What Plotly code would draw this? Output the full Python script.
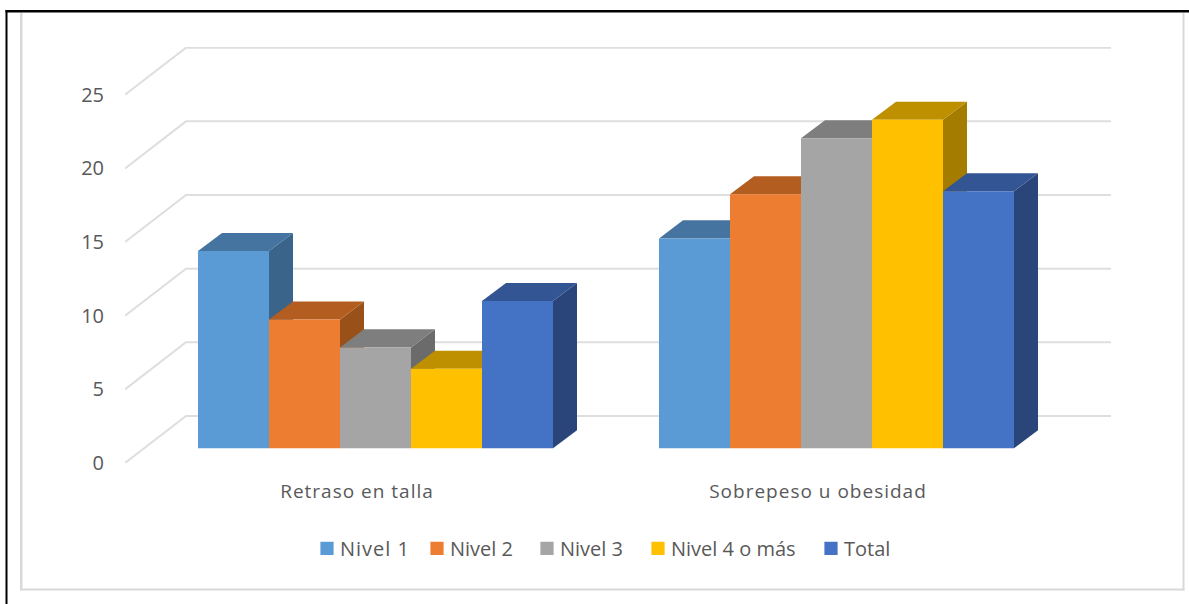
import plotly.graph_objects as go

categories = ["Retraso en talla", "Sobrepeso u obesidad"]
series_names = ["Nivel 1", "Nivel 2", "Nivel 3", "Nivel 4 o más", "Total"]
nivel_1 = [13.4, 14.25]
nivel_2 = [8.75, 17.25]
nivel_3 = [6.85, 21.05]
nivel_4 = [5.4, 22.3]
total = [10.0, 17.45]
series_values = [nivel_1, nivel_2, nivel_3, nivel_4, total]
front_colors = ["#5B9BD5", "#ED7D31", "#A5A5A5", "#FFC000", "#4472C4"]
top_colors = ["#4674A0", "#B35D20", "#7E7E7E", "#BE9000", "#335593"]
side_colors = ["#3A6489", "#9A5119", "#6B6B6B", "#A47C00", "#2A4579"]
y_ticks = [0, 5, 10, 15, 20, 25]
legend_px = [300, 410, 520, 631, 804]

W, H = 1189, 604
L, R, T, B = 125, 1111, 47, 462.7
PX_X = 461.0          # pixels per category step
PX_Y = 14.72          # pixels per value unit
X0_PX = 375.5         # pixel of first category
FONT = "Open Sans"
TEXT = "#595959"
GRID = "#DEDEDE"

x_range = [(L - X0_PX) / PX_X, (R - X0_PX) / PX_X]
y_range = [0, (B - T) / PX_Y]
BARGAP = 1 - 355.0 / PX_X
BASE = (B - 448) / PX_Y        # bars stand in mid-depth of the floor
WALL_DX = 61 / PX_X
WALL_DY = (B - 415.7) / PX_Y
BAR_DX = 24 / PX_X
BAR_DY = 18 / PX_Y
LABEL_SHIFT = -18.5 / PX_X     # labels sit on the front edge of the floor

fig = go.Figure()

# back wall and side wall gridlines
gx, gy = [], []
for t in y_ticks:
    gx += [x_range[0], x_range[0] + WALL_DX, x_range[1], None]
    gy += [t, t + WALL_DY, t + WALL_DY, None]
fig.add_trace(go.Scatter(x=gx, y=gy, mode="lines", line=dict(color=GRID, width=2),
                         hoverinfo="skip", showlegend=False))

# depth faces, painted left to right
group_w = 1 - BARGAP
bar_w = group_w / len(series_values)
for c in range(len(categories)):
    for s, vals in enumerate(series_values):
        left = c - group_w / 2 + s * bar_w
        right = left + bar_w
        top = BASE + vals[c]
        fig.add_trace(go.Scatter(
            x=[right, right, right + BAR_DX, right + BAR_DX, right],
            y=[BASE, top, top + BAR_DY, BASE + BAR_DY, BASE],
            mode="lines", line=dict(width=0, color=side_colors[s]), fill="toself",
            fillcolor=side_colors[s], hoverinfo="skip", showlegend=False))
        fig.add_trace(go.Scatter(
            x=[left, right, right + BAR_DX, left + BAR_DX, left],
            y=[top, top, top + BAR_DY, top + BAR_DY, top],
            mode="lines", line=dict(width=0, color=top_colors[s]), fill="toself",
            fillcolor=top_colors[s], hoverinfo="skip", showlegend=False))

# front faces on an overlaid subplot, so they cover the depth faces
for s, vals in enumerate(series_values):
    lg = "legend" if s == 0 else f"legend{s + 1}"
    fig.add_trace(go.Bar(x=list(range(len(categories))), y=vals, base=BASE,
                         name=series_names[s], marker=dict(color=front_colors[s], line=dict(width=0)),
                         xaxis="x2", yaxis="y2", legend=lg, showlegend=True))

def px_x(p):
    return (p - L) / (R - L)

def px_y(p):
    return (B - p) / (B - T)

def box(x0, y0, x1, y1, color):
    return dict(type="rect", xref="paper", yref="paper", layer="below",
                x0=px_x(x0), x1=px_x(x1), y0=px_y(y0), y1=px_y(y1),
                fillcolor=color, line=dict(width=0))

shapes = [
    box(20, 13, 22.5, 590, "#D9D9D9"),
    box(1182.5, 13, 1184.5, 590, "#D9D9D9"),
    box(20, 588, 1184.5, 590, "#D9D9D9"),
    box(5.5, 10, 1189, 12.5, "#000000"),
    box(5.5, 10, 7.5, 604, "#000000"),
]

layout = dict(
    width=W, height=H,
    margin=dict(l=L, r=W - R, t=T, b=H - B, pad=0, autoexpand=False),
    paper_bgcolor="white", plot_bgcolor="rgba(0,0,0,0)",
    barmode="group", bargap=BARGAP, bargroupgap=0,
    font=dict(family=FONT, size=19, color=TEXT),
    shapes=shapes,
    xaxis=dict(range=x_range, tickvals=[i + LABEL_SHIFT for i in range(len(categories))],
               ticktext=categories,
               showgrid=False, zeroline=False, showline=False, ticks="",
               ticklabelstandoff=15, tickfont=dict(family=FONT, size=19, color=TEXT)),
    yaxis=dict(range=y_range, tickvals=y_ticks, showgrid=False, zeroline=False, showline=False,
               ticks="", ticklabelstandoff=20, tickfont=dict(family=FONT, size=20, color=TEXT)),
    xaxis2=dict(range=x_range, overlaying="x", anchor="y2", visible=False),
    yaxis2=dict(range=y_range, overlaying="y", anchor="x2", visible=False),
)
for s, p in enumerate(legend_px):
    key = "legend" if s == 0 else f"legend{s + 1}"
    layout[key] = dict(orientation="h", x=px_x(p), y=px_y(548), xanchor="left", yanchor="middle",
                       bgcolor="rgba(0,0,0,0)", borderwidth=0, itemclick=False, itemdoubleclick=False,
                       font=dict(family=FONT, size=20, color=TEXT))
fig.update_layout(**layout)

post = """
document.body.style.margin = '0';
var st = document.createElement('style');
st.textContent = '.xtick text, .legendtext { letter-spacing: 1px; }';
document.head.appendChild(st);
function nudge() {
  document.querySelectorAll('.legendpoints').forEach(function (g) {
    g.setAttribute('transform', 'translate(5,0) scale(1.1)');
  });
}
nudge();
var gd = document.querySelector('.plotly-graph-div');
if (gd && gd.on) { gd.on('plotly_afterplot', nudge); }
"""
fig.write_html("out.html", post_script=post, config=dict(displayModeBar=False))
